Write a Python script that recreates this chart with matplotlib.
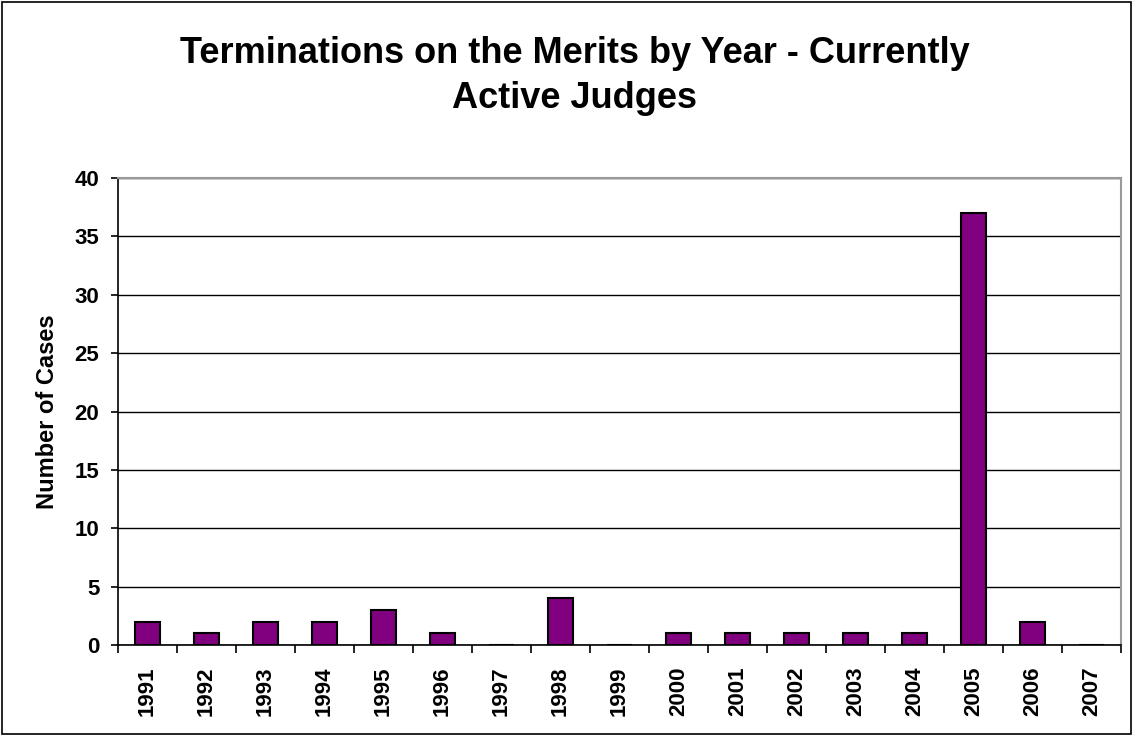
import matplotlib
matplotlib.use("Agg")
import matplotlib.pyplot as plt
from matplotlib.patches import Rectangle

# data
years = ["1991", "1992", "1993", "1994", "1995", "1996", "1997", "1998", "1999",
         "2000", "2001", "2002", "2003", "2004", "2005", "2006", "2007"]
cases = [2, 1, 2, 2, 3, 1, 0, 4, 0, 1, 1, 1, 1, 1, 37, 2, 0]
y_ticks = [0, 5, 10, 15, 20, 25, 30, 35, 40]

plt.rcParams['font.family'] = ['Liberation Sans', 'DejaVu Sans']

fig = plt.figure(figsize=(11.33, 7.36), dpi=100)
# outer chart border
fig.patches.append(Rectangle((0.002, 0.003), 0.996, 0.994, transform=fig.transFigure,
                             fill=False, edgecolor='black', linewidth=1.2))

W, H = 1133, 736
left, right, top, bottom = 118, 1121, 178, 645
ax = fig.add_axes([left / W, 1 - bottom / H, (right - left) / W, (bottom - top) / H])

x = list(range(len(years)))
ax.bar(x, cases, width=0.42, color='#800080', edgecolor='black', linewidth=1.5, zorder=3)

ax.set_xlim(-0.5, len(years) - 0.5)
ax.set_ylim(0, 40)
ax.set_yticks(y_ticks)
ax.set_yticklabels([str(t) for t in y_ticks], fontsize=16, fontweight='bold')
ax.set_xticks(x)
ax.set_xticklabels(years, rotation=90, fontsize=16, fontweight='bold')
ax.tick_params(axis='x', length=0, pad=15.5)
ax.tick_params(axis='y', length=5, width=1.2, direction='out', pad=8.5)

# tick marks between categories
ax.set_xticks([i - 0.5 for i in range(len(years) + 1)], minor=True)
ax.tick_params(axis='x', which='minor', length=6, width=1.2, direction='out')

ax.yaxis.grid(True, color='black', linewidth=1.0, zorder=0)
ax.set_axisbelow(True)

ax.spines['left'].set_color('black')
ax.spines['left'].set_linewidth(1.2)
ax.spines['bottom'].set_color('black')
ax.spines['bottom'].set_linewidth(1.2)
ax.spines['top'].set_color('#999999')
ax.spines['top'].set_linewidth(1.5)
ax.spines['right'].set_color('#999999')
ax.spines['right'].set_linewidth(1.5)

ax.set_ylabel("Number of Cases", fontsize=17, fontweight='bold', labelpad=11)

# two-line title, baselines placed as in the reference
title_lines = ["Terminations on the Merits by Year - Currently", "Active Judges"]
for line, base in zip(title_lines, [63, 108]):
    fig.text(575 / W, 1 - base / H, line, ha='center', va='baseline',
             fontsize=26, fontweight='bold')

plt.savefig("out.png", dpi=100)
plt.close()
